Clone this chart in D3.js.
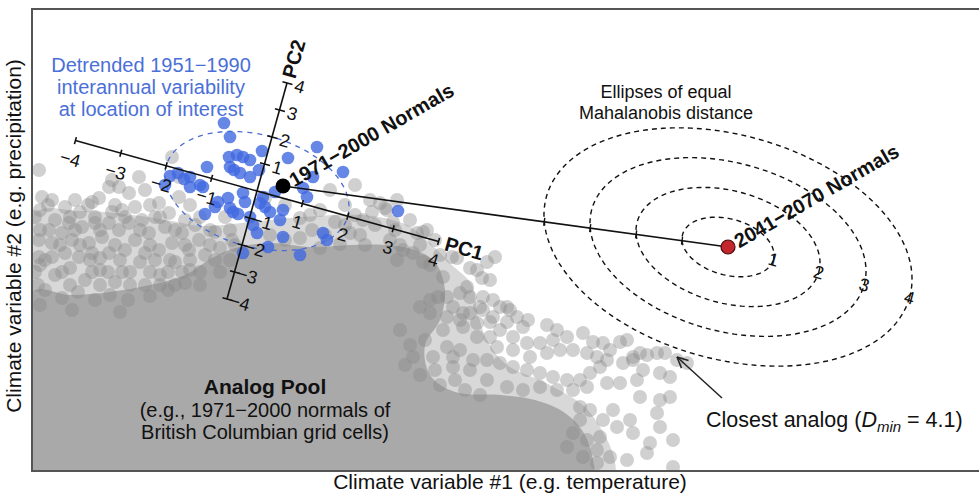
<!DOCTYPE html>
<html><head><meta charset="utf-8">
<script src="https://cdn.jsdelivr.net/npm/d3@7"></script>
<style>
body{margin:0;background:#fff;}
text{font-family:Arial,"Liberation Sans",Helvetica,sans-serif;}
</style></head>
<body><svg id="c" width="979" height="503"></svg>
<script>
// ---------- data (climate-space units) ----------
const poolHalo = [[0,25.6],[5,26],[10,25.6],[14,25],[17,24.5],[21,24.8],[27,25.4],[33,25.6],[37.5,24.6],[40,22.6],[42,20.6],[44,18.6],[44.5,16.1],[45.5,13.1],[47.5,10.6],[51.8,8.6],[56,5.6],[58,-1],[0,-1]];
const poolCore = [[0,17.9],[3.8,17.6],[7.8,17.9],[11.8,18.6],[15.3,19.6],[18.0,21.3],[20.3,22.3],[23.8,22.8],[27.8,22.4],[31.8,22.6],[35.3,22.6],[38.3,22.1],[40.3,20.9],[41.3,18.1],[40.8,15.1],[39.3,12.6],[39.8,9.6],[42.3,7.9],[46.8,7.6],[50.3,7.1],[53.3,5.8],[55.3,3.6],[56.3,0],[56.3,-1],[0,-1]];
const poolPoints = [
[0.7,30.1],[1.0,27.4],[0.8,26.1],[2.0,27.1],[2.3,25.1],[3.3,26.4],[4.3,27.1],[4.8,25.9],[6.0,26.9],[6.7,27.3],
[8.0,29.1],[7.7,28.4],[8.7,28.4],[10.7,29.4],[9.7,27.8],[11.3,28.1],[10.3,26.4],[9.0,26.1],[8.0,25.9],[7.7,24.8],
[6.3,24.8],[5.0,24.4],[3.7,24.8],[3.0,23.8],[1.7,24.1],[0.7,23.1],[2.0,22.8],[4.0,23.1],[5.7,22.8],[7.0,23.4],
[8.7,24.1],[9.7,24.8],[11.0,25.1],[12.3,25.4],[12.7,26.8],[13.7,25.8],[13.3,24.4],[11.7,23.8],[10.3,23.1],[9.3,22.1],
[7.7,21.8],[6.0,21.8],[4.7,21.4],[3.3,21.8],[2.0,21.4],[0.7,21.4],[14.7,27.4],[15.3,25.1],[15.0,23.8],[16.7,23.1],
[15.7,22.1],[14.0,22.8],[12.7,22.1],[11.3,21.8],[14.0,31.4],[14.7,29.4],
[0.8,20.6],[2.3,19.6],[3.8,20.3],[5.3,19.1],[6.8,20.1],[8.3,18.9],[9.8,19.9],[11.3,18.6],[12.8,19.6],[14.3,20.9],
[15.8,20.1],[17.3,21.6],[1.3,18.1],[3.0,17.3],[4.6,17.9],[6.3,17.1],[7.8,17.6],[9.6,17.1],[11.8,17.5],[13.6,18.1],
[15.3,18.8],[0.8,16.6],[4.0,16.1],[8.8,15.9],[6.8,21.3],[10.8,20.9],
[1.6,26.6],[5.6,26.6],[8.3,26.6],[11.8,26.6],[15.8,26.6],
[0.3,25.4],[3.8,25.4],[6.3,25.4],[9.3,25.4],[12.8,25.4],[16.8,25.4],[19.3,25.4],
[0.8,24.1],[4.3,24.1],[6.8,24.1],[10.8,24.1],[14.3,24.1],[17.8,24.1],[19.8,24.1],
[2.8,22.6],[4.8,22.6],[8.3,22.6],[11.8,22.6],[15.3,22.6],[17.8,22.6],[20.3,22.6],
[1.3,21.1],[5.8,21.1],[8.8,21.1],[12.3,21.1],[13.8,21.1],[15.8,21.1],[18.3,21.1],[19.8,21.1],
[0.3,19.9],[3.0,19.9],[6.0,19.9],[7.6,19.9],[9.0,19.9],[11.8,19.9],[13.6,19.9],[15.0,19.9],[16.8,19.9],[18.8,19.9],
[0.6,18.6],[3.8,18.6],[6.8,18.6],[9.8,18.6],[12.8,18.6],[14.3,18.6],[16.8,18.6],
[16.3,24.6],[18.3,23.9],[20.0,23.1],[18.8,22.3],[23.3,27.3],[25.3,26.6],[26.8,25.3],[28.0,24.1],[30.3,24.9],[31.3,26.6],
[32.3,25.6],[33.8,27.1],[35.3,26.3],[33.1,25.1],[31.8,23.8],[34.8,26.8],[36.5,27.1],[38.5,23.8],[39.5,24.1],[35.8,23.1],
[38.1,21.8],[30.8,22.7],[33.3,22.6],[36.8,22.6],[28.8,22.3],[32.3,28.6],[29.8,28.1],
[27.8,25.6],[29.3,23.6],[31.3,24.6],[32.8,23.6],[34.3,24.6],[36.3,24.1],[37.8,25.1],[38.8,22.6],[40.3,23.1],[40.8,21.6],
[26.8,23.3],[25.3,23.1],[23.8,23.6],[28.8,26.1],[34.0,25.9],
[35.5,26.1],[36.1,24.9],[39.1,23.9],[37.1,22.1],[36.5,21.1],[39.1,20.9],[39.8,20.6],[41.1,19.4],[42.0,21.4],[42.5,21.3],
[43.8,20.3],[44.5,20.1],[45.5,20.9],[46.3,21.4],[45.0,19.3],[45.8,19.1],[43.5,18.4],[42.8,17.8],[41.5,17.4],[40.6,17.4],
[43.8,17.4],[45.1,17.4],[46.1,17.1],[44.8,16.4],[46.8,16.4],[47.8,16.1],[48.5,15.4],[47.5,14.9],[49.1,14.4],[51.5,14.6],
[52.5,14.1],[53.5,13.4],[55.1,13.8],[56.1,12.9],[52.1,13.1],[50.8,12.8],[49.5,12.8],[48.1,13.4],[46.8,14.1],[45.8,14.9],
[44.5,14.8],[43.1,15.8],[42.1,16.4],[39.8,17.1],[38.8,16.4],[39.8,15.8],[41.5,15.4],[41.1,14.1],[43.1,14.4],[44.5,13.4],
[45.8,13.4],[46.5,12.4],[48.1,12.1],[49.8,11.4],[51.5,11.8],[52.8,12.1],[54.1,12.1],[55.5,11.8],[56.5,11.4],[57.5,11.1],
[58.8,12.9],[59.5,13.1],[57.8,12.1],[60.1,11.4],[61.5,11.6],[62.5,11.8],[63.3,11.8],[38.1,11.4],[40.1,11.4],[42.1,11.4],[44.1,11.1],
[42.8,15.1],[43.8,15.8],[45.1,16.1],[46.1,15.4],[47.5,16.4],[49.6,15.1],[57.1,12.8],[60.8,11.8],[64.5,11.1],[65.5,10.8],
[61.1,10.1],[62.8,9.8],[63.8,9.4],[60.1,11.1],[59.1,10.8],[56.8,10.4],[55.8,9.8],[54.8,9.1],[53.5,9.1],[52.1,9.4],
[50.8,9.8],[49.5,10.1],[48.1,10.4],[46.8,10.8],[45.5,11.1],[42.8,12.1],[41.5,12.4],[42.1,10.4],[43.8,10.1],[45.5,9.1],
[47.5,8.4],[49.1,8.1],[50.8,8.4],[52.5,8.1],[54.1,8.1],[55.5,8.4],[57.5,8.8],[58.8,8.8],[60.5,9.1],[60.8,7.4],
[62.8,7.1],[63.8,7.4],[62.5,5.8],[62.8,4.4],[64.1,3.1],[61.8,2.8],[61.5,1.8],[59.8,5.1],[60.1,3.8],[58.1,6.1],
[58.5,4.4],[57.1,5.1],[56.8,3.4],[56.5,2.1],[57.8,1.4],[59.5,1.1],[64.1,0.4],[54.8,6.4],[55.8,6.1],[54.8,5.1],
[54.1,3.8],[55.5,3.1],[53.5,2.4],[55.1,1.4],[56.5,0.8],
[36.8,14.1],[37.8,12.6],[39.3,13.1],[37.3,10.6],[38.8,9.6],[40.8,8.6],[42.3,9.1],[40.3,10.1],[43.3,8.1],[44.8,7.6]
];
const variabilityPoints = [
[19.2,34.8],[19.8,33.4],[19.7,31.4],[20.5,31.6],[21.1,31.4],[23.0,32.0],[25.6,31.3],[28.5,32.4],[31.1,29.9],[28.1,29.4],
[17.5,30.4],[20.2,30.1],[20.8,29.8],[21.8,29.4],[22.7,30.1],[14.6,29.8],[15.2,29.2],[13.8,29.5],[15.8,29.4],[16.8,28.6],
[17.1,28.4],[13.3,28.6],[27.1,28.3],[27.5,27.4],[21.1,27.8],[18.6,26.9],[19.6,27.3],[19.8,26.3],[20.6,25.7],[22.8,26.8],
[23.3,26.4],[23.8,25.9],[23.1,27.4],[25.1,26.1],[24.8,25.1],[17.3,25.7],[22.1,24.6],[22.5,23.8],[25.1,23.4],[23.6,22.4],
[21.1,21.8],[26.8,21.6],[29.1,23.8],[29.5,23.1],[36.6,26.0],[21.8,25.4],[24.3,27.9],[20.1,25.9],[21.3,26.9],[18.3,26.4],
[15.8,28.4],[21.8,31.1],[19.8,30.4]
];
const normals1971 = [25.1, 28.5];
const normals2041 = [69.6, 22.4];
const pcOrigin = [22.5, 28.0];
const pc1Vector = [4.54, -1.26];
const pc2Vector = [0.75, 2.70];
const ellipseRadii = [1, 2, 3, 4];
const variabilityRadius = 2;
const pcTicks = [-4, -3, -2, -1, 1, 2, 3, 4];
const pcLimit = 4;
const closestArrowFrom = [69.0, 7.3];
const closestArrowTo = [64.5, 11.4];
const dMin = 4.1;

// ---------- scales ----------
const plot = {l: 32, r: 980, t: 9, b: 471};
const x = d3.scaleLinear().domain([0, 94.8]).range([plot.l, plot.r]);
const y = d3.scaleLinear().domain([0, 46.2]).range([plot.b, plot.t]);
const P = p => [x(p[0]), y(p[1])];
const pc = (o, a, b) => [o[0] + a*pc1Vector[0] + b*pc2Vector[0], o[1] + a*pc1Vector[1] + b*pc2Vector[1]];
const ang1 = Math.atan2(y(pc1Vector[1]) - y(0), x(pc1Vector[0]) - x(0)) * 180 / Math.PI;
const ang2 = Math.atan2(y(pc2Vector[1]) - y(0), x(pc2Vector[0]) - x(0)) * 180 / Math.PI;

const svg = d3.select("#c");
svg.append("defs").append("clipPath").attr("id", "clip").append("rect")
  .attr("x", plot.l).attr("y", plot.t).attr("width", plot.r - plot.l).attr("height", plot.b - plot.t);
const g = svg.append("g").attr("clip-path", "url(#clip)");

// analog pool
const areaLine = d3.line().x(d => x(d[0])).y(d => y(d[1])).curve(d3.curveCatmullRomClosed);
g.append("path").datum(poolHalo).attr("d", areaLine).attr("fill", "#d8d8d8");
g.append("path").datum(poolCore).attr("d", areaLine).attr("fill", "#a9a9a9");
g.append("g").selectAll("circle").data(poolPoints).join("circle")
  .attr("cx", d => x(d[0])).attr("cy", d => y(d[1])).attr("r", 7)
  .attr("fill", "#8a8a8a").attr("fill-opacity", 0.4);

// ellipse generator in PC space
const ell = (o, r) => d3.range(0, 361, 3).map(t => {
  const a = r*Math.cos(t*Math.PI/180), b = r*Math.sin(t*Math.PI/180);
  return P(pc(o, a, b));
});
const lineGen = d3.line();

// variability ellipse + points
g.append("path").attr("d", lineGen(ell(pcOrigin, variabilityRadius)) + "Z")
  .attr("fill", "none").attr("stroke", "#4a6cd4").attr("stroke-width", 1.3).attr("stroke-dasharray", "5,5");
g.append("g").selectAll("circle").data(variabilityPoints).join("circle")
  .attr("cx", d => x(d[0])).attr("cy", d => y(d[1])).attr("r", 6.3)
  .attr("fill", "#4169e1").attr("fill-opacity", 0.8);

// PC axes
const axG = g.append("g").attr("stroke", "#111").attr("stroke-width", 1.6);
axG.append("line").attr("x1", P(pc(pcOrigin, -pcLimit, 0))[0]).attr("y1", P(pc(pcOrigin, -pcLimit, 0))[1])
  .attr("x2", P(pc(pcOrigin, pcLimit, 0))[0]).attr("y2", P(pc(pcOrigin, pcLimit, 0))[1]);
axG.append("line").attr("x1", P(pc(pcOrigin, 0, -pcLimit))[0]).attr("y1", P(pc(pcOrigin, 0, -pcLimit))[1])
  .attr("x2", P(pc(pcOrigin, 0, pcLimit))[0]).attr("y2", P(pc(pcOrigin, 0, pcLimit))[1]);
pcTicks.forEach(k => {
  const a1 = P(pc(pcOrigin, k, -0.13)), a2 = P(pc(pcOrigin, k, 0.13));
  axG.append("line").attr("x1", a1[0]).attr("y1", a1[1]).attr("x2", a2[0]).attr("y2", a2[1]);
  const b1 = P(pc(pcOrigin, -0.1, k)), b2 = P(pc(pcOrigin, 0.12, k));
  axG.append("line").attr("x1", b1[0]).attr("y1", b1[1]).attr("x2", b2[0]).attr("y2", b2[1]);
});
const fmt = k => (k < 0 ? "\u2212" : "") + Math.abs(k);
pcTicks.forEach(k => {
  const p1 = P(pc(pcOrigin, k, -0.68));
  g.append("text").attr("transform", `translate(${p1[0]},${p1[1]}) rotate(${ang1})`)
    .attr("text-anchor", "middle").attr("dy", "0.35em").attr("font-size", 18).attr("fill", "#111").text(fmt(k));
  const p2 = P(pc(pcOrigin, 0.28, k));
  g.append("text").attr("transform", `translate(${p2[0]},${p2[1]}) rotate(${ang1})`)
    .attr("text-anchor", "middle").attr("dy", "0.35em").attr("font-size", 18).attr("fill", "#111").text(fmt(k));
});
const pc1Lab = P(pc(pcOrigin, pcLimit + 0.15, 0));
g.append("text").attr("transform", `translate(${pc1Lab[0]},${pc1Lab[1]}) rotate(${ang1})`)
  .attr("dy", "0.35em").attr("font-size", 20).attr("font-weight", "bold").attr("fill", "#111").text("PC1");
const pc2Lab = P(pc(pcOrigin, 0, pcLimit + 0.2));
g.append("text").attr("transform", `translate(${pc2Lab[0]},${pc2Lab[1]}) rotate(${ang2})`)
  .attr("dy", "0.35em").attr("font-size", 20).attr("font-weight", "bold").attr("fill", "#111").text("PC2");

// line from 1971-2000 normals to 2041-2070 normals, with Mahalanobis ticks
const A = P(normals1971), B = P(normals2041);
g.append("line").attr("x1", A[0]).attr("y1", A[1]).attr("x2", B[0]).attr("y2", B[1])
  .attr("stroke", "#111").attr("stroke-width", 1.6);
const dx = normals1971[0] - normals2041[0], dy = normals1971[1] - normals2041[1];
const det = pc1Vector[0]*pc2Vector[1] - pc2Vector[0]*pc1Vector[1];
const ma = (dx*pc2Vector[1] - pc2Vector[0]*dy)/det, mb = (pc1Vector[0]*dy - pc1Vector[1]*dx)/det;
const mdist = Math.hypot(ma, mb);
const ux = (A[0]-B[0]), uy = (A[1]-B[1]), ul = Math.hypot(ux, uy);
ellipseRadii.forEach(r => {
  const f = r / mdist, cx = B[0] + ux*f, cy = B[1] + uy*f;
  const nx = -uy/ul*4, ny = ux/ul*4;
  g.append("line").attr("x1", cx - nx).attr("y1", cy - ny).attr("x2", cx + nx).attr("y2", cy + ny)
    .attr("stroke", "#111").attr("stroke-width", 1.4);
});

// Mahalanobis ellipses
ellipseRadii.forEach(r => {
  g.append("path").attr("d", lineGen(ell(normals2041, r)) + "Z")
    .attr("fill", "none").attr("stroke", "#111").attr("stroke-width", 1.4).attr("stroke-dasharray", "5,4");
  const lp = P(pc(normals2041, r, 0));
  g.append("text").attr("transform", `translate(${lp[0]},${lp[1]}) rotate(${ang1})`)
    .attr("text-anchor", "middle").attr("dy", "0.35em").attr("font-size", 18).attr("fill", "#111").text(r);
});

// dots
g.append("circle").attr("cx", A[0]).attr("cy", A[1]).attr("r", 7.5).attr("fill", "#000");
g.append("circle").attr("cx", B[0]).attr("cy", B[1]).attr("r", 7).attr("fill", "#c3262c").attr("stroke", "#4a0c0c").attr("stroke-width", 1.2);

// normals labels
[[A, "1971\u22122000 Normals"], [B, "2041\u22122070 Normals"]].forEach(([p, s]) => {
  g.append("text").attr("transform", `translate(${p[0]},${p[1]}) rotate(-30)`)
    .attr("x", 9).attr("dy", "0.35em").attr("font-size", 20).attr("font-weight", "bold").attr("fill", "#111").text(s);
});

// closest analog arrow
const F = P(closestArrowFrom), T = P(closestArrowTo);
const aG = g.append("g").attr("stroke", "#222").attr("stroke-width", 1.5).attr("fill", "none");
aG.append("line").attr("x1", F[0]).attr("y1", F[1]).attr("x2", T[0]).attr("y2", T[1]);
const th = Math.atan2(F[1]-T[1], F[0]-T[0]);
[-0.45, 0.45].forEach(dv => {
  aG.append("line").attr("x1", T[0]).attr("y1", T[1])
    .attr("x2", T[0] + 12*Math.cos(th+dv)).attr("y2", T[1] + 12*Math.sin(th+dv));
});

// annotations
const blue = svg.append("text").attr("font-size", 20).attr("fill", "#4a6fd8").attr("text-anchor", "middle");
["Detrended 1951\u22121990", "interannual variability", "at location of interest"].forEach((s, i) =>
  blue.append("tspan").attr("x", 151).attr("y", 72 + i*22).text(s));
const ell_t = svg.append("text").attr("font-size", 18).attr("fill", "#111").attr("text-anchor", "middle");
["Ellipses of equal", "Mahalanobis distance"].forEach((s, i) =>
  ell_t.append("tspan").attr("x", 666).attr("y", 98 + i*21).text(s));
const pool = svg.append("text").attr("fill", "#111").attr("text-anchor", "middle");
pool.append("tspan").attr("x", 265).attr("y", 394).attr("font-size", 21).attr("font-weight", "bold").text("Analog Pool");
pool.append("tspan").attr("x", 265).attr("y", 417).attr("font-size", 20).text("(e.g., 1971\u22122000 normals of");
pool.append("tspan").attr("x", 265).attr("y", 439).attr("font-size", 20).text("British Columbian grid cells)");
const ca = svg.append("text").attr("x", 706).attr("y", 427).attr("font-size", 21.5).attr("fill", "#111");
ca.append("tspan").text("Closest analog (");
ca.append("tspan").attr("font-style", "italic").text("D");
ca.append("tspan").attr("font-style", "italic").attr("font-size", 15).attr("dy", 5).text("min");
ca.append("tspan").attr("dy", -5).text(" = " + dMin + ")");

// frame and axis titles
svg.append("rect").attr("x", plot.l).attr("y", plot.t).attr("width", 990 - plot.l).attr("height", plot.b - plot.t)
  .attr("fill", "none").attr("stroke", "#555").attr("stroke-width", 2);
svg.append("text").attr("x", 510).attr("y", 489).attr("text-anchor", "middle").attr("font-size", 21)
  .attr("fill", "#111").text("Climate variable #1 (e.g. temperature)");
svg.append("text").attr("transform", "translate(21,236) rotate(-90)").attr("text-anchor", "middle").attr("font-size", 21)
  .attr("fill", "#111").text("Climate variable #2 (e.g. precipitation)");
</script>
</body></html>
